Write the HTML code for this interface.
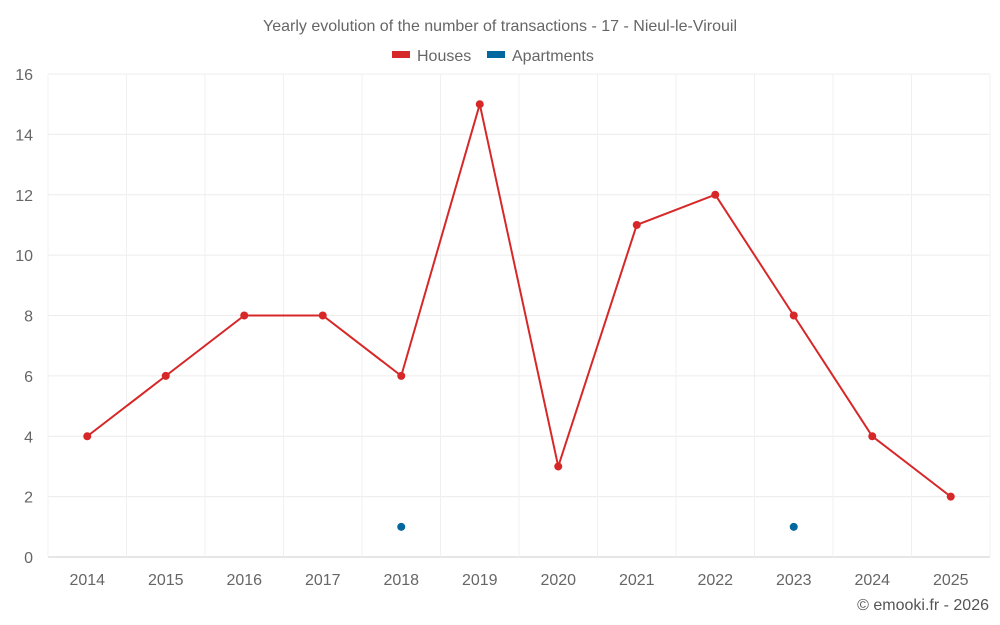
<!DOCTYPE html>
<html><head><meta charset="utf-8"><style>
html,body{margin:0;padding:0;background:#fff;width:1000px;height:625px;overflow:hidden}
svg{font-family:"Liberation Sans",sans-serif}
</style></head><body>
<svg id="chart" width="1000" height="625">
<text x="500" y="31" text-anchor="middle" font-size="16" fill="#666">Yearly evolution of the number of transactions - 17 - Nieul-le-Virouil</text>
<g><rect x="392" y="51" width="18" height="7" fill="#d62828"/><text x="417" y="61" font-size="16" fill="#666">Houses</text></g>
<g><rect x="487" y="51" width="18" height="7" fill="#02679e"/><text x="512" y="61" font-size="16" fill="#666">Apartments</text></g>
<g id="grid"></g><g id="axes"></g><g id="series"></g>
<text x="989" y="610" text-anchor="end" font-size="16" fill="#555">© emooki.fr - 2026</text>
</svg>
<script>
const categories=["2014","2015","2016","2017","2018","2019","2020","2021","2022","2023","2024","2025"];
const houses=[4,6,8,8,6,15,3,11,12,8,4,2];
const apartments=[null,null,null,null,1,null,null,null,null,1,null,null];
const yTicks=[0,2,4,6,8,10,12,14,16];
const L=48,R=990,T=74,B=557,ymax=16;
const bw=(R-L)/categories.length;
const x=i=>L+bw*(i+0.5);
const y=v=>B-(B-T)*v/ymax;
const NS="http://www.w3.org/2000/svg";
function mk(p,t,a){const e=document.createElementNS(NS,t);for(const k in a)e.setAttribute(k,a[k]);document.getElementById(p).appendChild(e);return e;}
yTicks.forEach(v=>{
 const g=mk('grid','line',{x1:L,x2:R,y1:y(v),y2:y(v),stroke:v===0?'#ccc':'#ececec','stroke-width':1});
 
 
 const t=mk('axes','text',{x:33,y:y(v)+6,'text-anchor':'end','font-size':16,fill:'#666'});
 t.textContent=v;
 
 
});
for(let i=0;i<=categories.length;i++){
 const g=mk('grid','line',{x1:L+bw*i,x2:L+bw*i,y1:T,y2:B,stroke:'#f0f0f0','stroke-width':1});
 
 
}
categories.forEach((c,i)=>{
 const t=mk('axes','text',{x:x(i),y:585,'text-anchor':'middle','font-size':16,fill:'#666'});
 t.textContent=c;
 
 
});
const line=mk('series','polyline',{points:houses.map((v,i)=>x(i)+','+y(v)).join(' '),fill:'none',stroke:'#d62828','stroke-width':2});


houses.forEach((v,i)=>{
 const c=mk('series','circle',{cx:x(i),cy:y(v),r:4,fill:'#d62828'});
 
 
});
apartments.forEach((v,i)=>{
 if(v==null)return;
 const c=mk('series','circle',{cx:x(i),cy:y(v),r:4,fill:'#02679e'});
 
 
});
</script>
</body></html>
